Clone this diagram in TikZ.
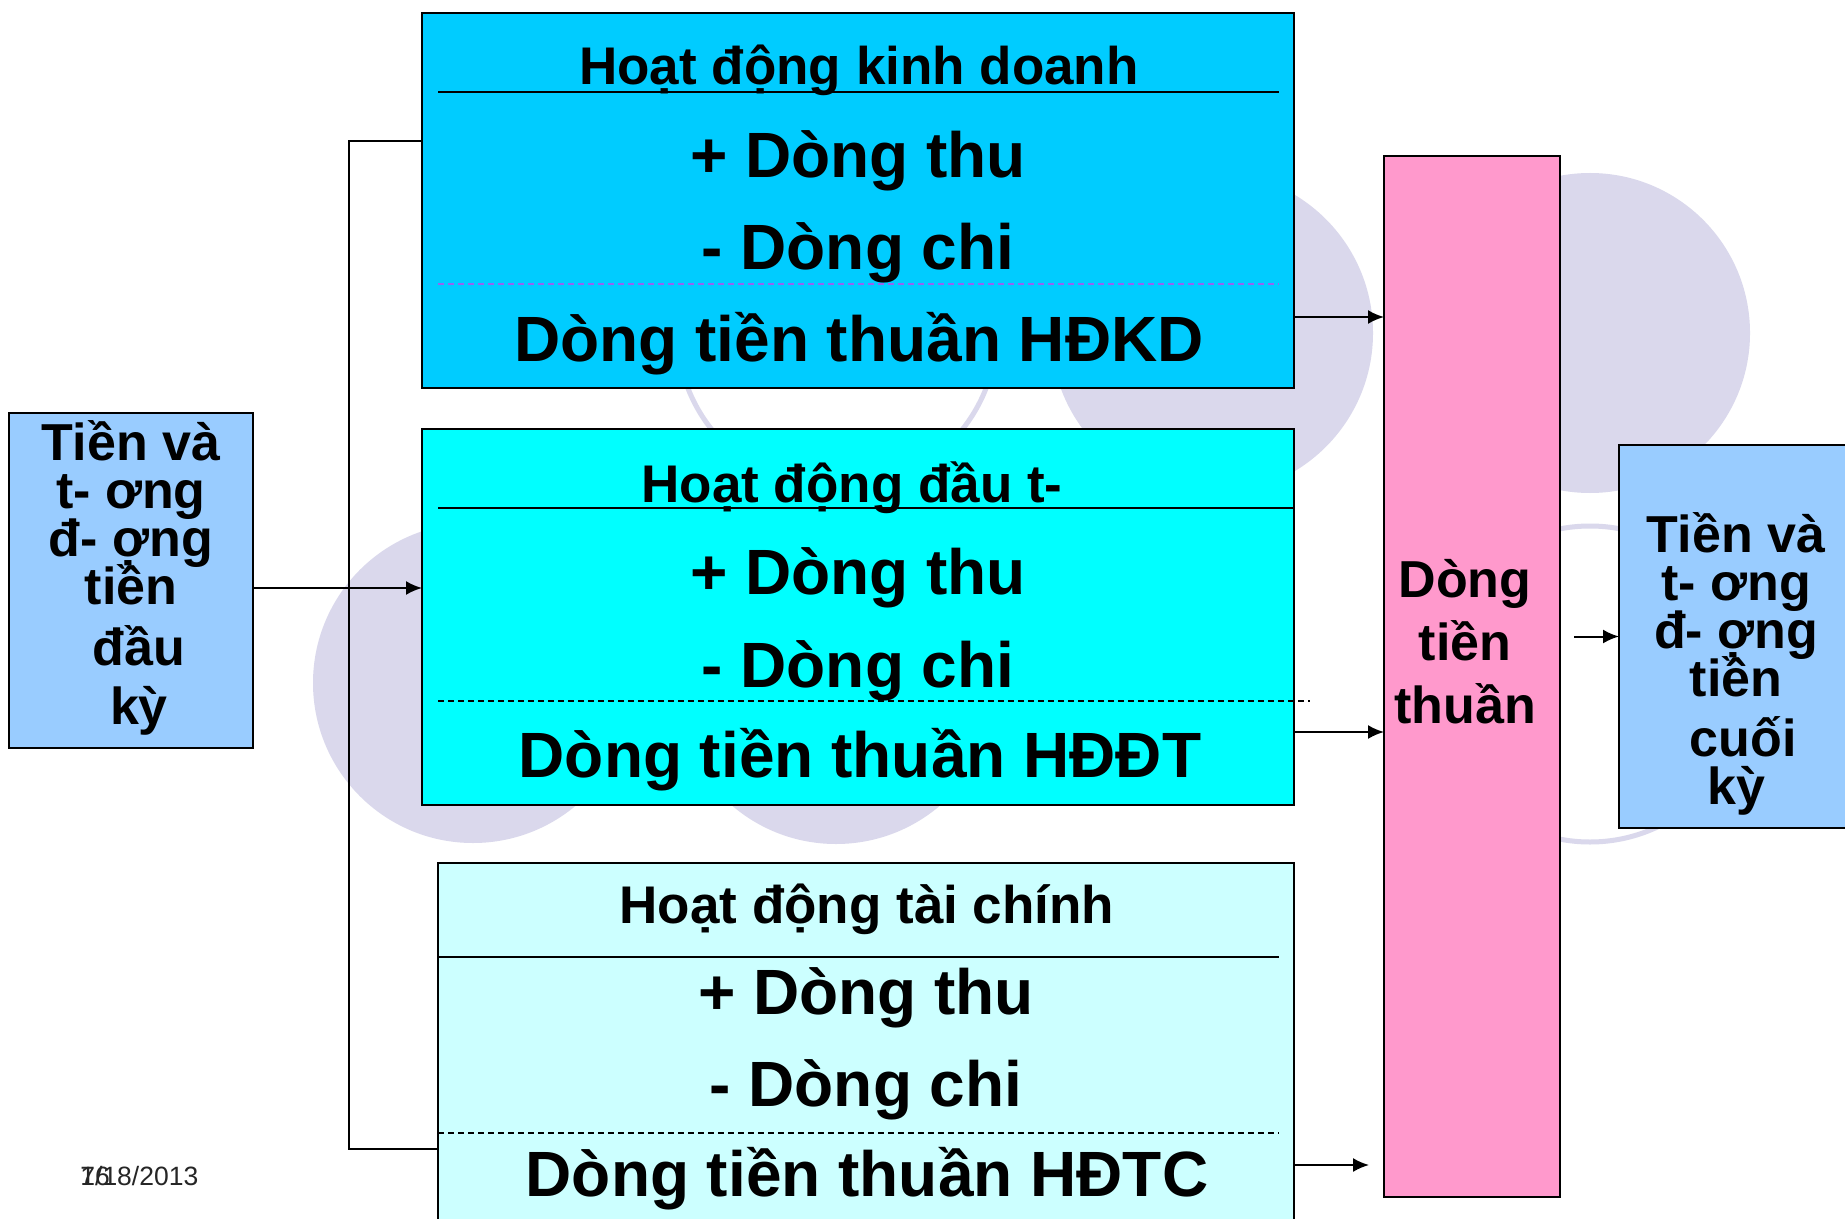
\documentclass[tikz,border=0pt]{standalone}
\usepackage{fontspec}
\setmainfont{Liberation Sans}
\usetikzlibrary{arrows.meta}
\definecolor{lav}{RGB}{218,216,236}
\definecolor{cA}{RGB}{0,204,255}
\definecolor{cB}{RGB}{0,255,255}
\definecolor{cC}{RGB}{204,255,255}
\definecolor{cS}{RGB}{153,204,255}
\definecolor{cP}{RGB}{255,153,204}
\definecolor{cV}{RGB}{150,100,240}
\tikzset{
  panel/.style={draw=black, line width=1pt, rectangle, inner sep=0pt, outer sep=0pt},
  thinpanel/.style={draw=black, line width=0.7pt, rectangle, inner sep=0pt, outer sep=0pt},
  heading/.style={font=\fontsize{26.5}{30}\selectfont\bfseries, anchor=base, inner sep=0pt},
  bigline/.style={font=\fontsize{32}{38}\selectfont\bfseries, anchor=base, inner sep=0pt},
  sidetxt/.style={font=\fontsize{26}{24}\selectfont\bfseries, align=center, inner sep=0pt},
  pinktxt/.style={font=\fontsize{26}{31.5}\selectfont\bfseries, align=center, inner sep=0pt},
  rule/.style={line width=1pt, draw=black},
  dashrule/.style={line width=0.9pt, dash pattern=on 3pt off 2pt},
  conn/.style={line width=1pt, draw=black},
  arr/.style={line width=1pt, draw=black, -{Latex[length=8pt,width=7pt]}},
  ring/.style={draw=lav, line width=2.5pt},
  datef/.style={font=\fontsize{13.25}{15}\selectfont, anchor=base west, inner sep=0pt, text=black!85}
}
\begin{document}
\lineskiplimit=-16000pt
\begin{tikzpicture}[x=0.5pt,y=-0.5pt]
\clip (0,0) rectangle (1845,1219);
\fill[white] (0,0) rectangle (1845,1219);
% background circles
\fill[lav] (473,683) circle[radius=160];
\fill[lav] (836,684) circle[radius=160];
\fill[lav] (1212,333) circle[radius=161];
\fill[lav] (1590,333) circle[radius=160];
\draw[ring] (837,330) circle[radius=160];
\draw[ring] (1590,684) circle[radius=158];

% boxes
\node[panel, fill=cA, minimum width=436pt, minimum height=187.5pt] (hdkd) at (858,200.5) {};
\node[panel, fill=cB, minimum width=436pt, minimum height=188pt] (hddt) at (858,617) {};
\node[panel, fill=cC, minimum width=428pt, minimum height=188.5pt] (hdtc) at (866,1051.5) {};
\node[panel, fill=cS, minimum width=122pt, minimum height=167.5pt] (start) at (131,580.5) {};
\node[thinpanel, fill=cP, minimum width=88pt, minimum height=520.5pt] (net) at (1472,676.5) {};
\node[thinpanel, fill=cS, minimum width=125.5pt, minimum height=191.5pt] (finish) at (1744.5,636.5) {};

% box 1 contents
\node[heading] (t1) at (859,85) {Hoạt động kinh doanh};
\draw[rule] (438,92) -- (1279,92);
\node[bigline] (in1) at (858,178) {+ Dòng thu};
\node[bigline] (out1) at (858,270) {- Dòng chi};
\draw[dashrule, draw=cV] (438,284) -- (1279,284);
\node[bigline] (n1) at (859,362) {Dòng tiền thuần HĐKD};

% box 2 contents
\node[heading] (t2) at (852,502) {Hoạt động đầu t-};
\draw[rule] (438,508) -- (1294,508);
\node[bigline] (in2) at (858,594) {+ Dòng thu};
\node[bigline] (out2) at (858,687) {- Dòng chi};
\draw[dashrule, draw=black] (438,701) -- (1310,701);
\node[bigline] (n2) at (860,777) {Dòng tiền thuần HĐĐT};

% box 3 contents
\node[heading] (t3) at (867,923) {Hoạt động tài chính};
\draw[rule] (438,957) -- (1279,957);
\node[bigline] (in3) at (866,1014) {+ Dòng thu};
\node[bigline] (out3) at (866,1106) {- Dòng chi};
\draw[dashrule, draw=black] (438,1133) -- (1279,1133);
\node[bigline] (n3) at (867,1196) {Dòng tiền thuần HĐTC};

% side texts
\node[sidetxt] (starttxt) at (131,578) {Tiền và\\ t- ơng\\ đ- ợng\\ tiền\\[6.5pt] \kern8pt đầu\\[5.5pt] \kern8pt kỳ};
\node[pinktxt] (nettxt) at (1465,641.5) {Dòng\\ tiền\\ thuần};
\node[sidetxt] (finishtxt) at (1736,663.5) {Tiền và\\ t- ơng\\ đ- ợng\\ tiền\\[6pt] \kern7pt cuối\\ kỳ};

% connectors
\coordinate (vx) at (349,0);
\coordinate (bt) at ([yshift=29.75pt]hdkd.west);
\coordinate (bb) at ([yshift=-48.75pt]hdtc.west);
\draw[conn] (bt) -- (bt -| vx) -- (bb -| vx) -- (bb);
\draw[arr] ([yshift=-3.75pt]start.east) coordinate (a1) -- (a1 -| hddt.west);
\draw[arr] ([yshift=-58.25pt]hdkd.east) coordinate (a2) -- (a2 -| net.west);
\draw[arr] ([yshift=-57.5pt]hddt.east) coordinate (a3) -- (a3 -| net.west);
\draw[arr] ([yshift=-56.75pt]hdtc.east) coordinate (a4) -- ([xshift=-7.5pt]a4 -| net.west);
\draw[arr] ([xshift=7pt]net.east |- finish.west) -- (finish.west);

% footer
\node[datef] (date) at (80,1185) {7/18/2013};
\node[datef] (slnum) at (80,1185) {16};
\end{tikzpicture}
\end{document}
